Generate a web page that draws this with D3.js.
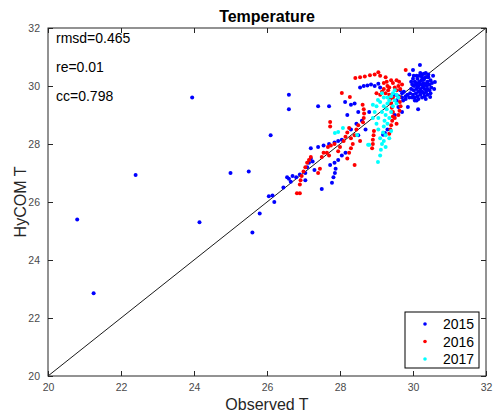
<!DOCTYPE html>
<html>
<head>
<meta charset="utf-8">
<script src="https://cdn.jsdelivr.net/npm/d3@7"></script>
<style>
  html, body { margin: 0; padding: 0; background: #fff; }
  svg text { font-family: "Liberation Sans", Arial, Helvetica, sans-serif; }
</style>
</head>
<body>
<div id="chart"></div>
<script>
// values: [observed, hycom]
const years = ['2015', '2016', '2017'];
const yearColors = ['#0000ff', '#ff0000', '#00ffff'];
const xTicks = [20, 22, 24, 26, 28, 30, 32];
const yTicks = [20, 22, 24, 26, 28, 30, 32];
const stats = ['rmsd=0.465', 're=0.01', 'cc=0.798'];

const pts2015 = [
  // outliers
  [20.8,25.4],[21.25,22.85],[22.4,26.93],[23.95,29.6],[24.15,25.3],[25.0,27.0],[25.5,27.05],
  [25.6,24.95],[25.8,25.6],[26.1,28.3],[26.6,29.7],[26.6,29.2],[27.4,29.3],[27.7,29.3],
  // lower diagonal
  [26.05,26.2],[26.15,26.22],[26.2,26.0],[26.45,26.5],[26.55,26.85],[26.6,26.8],[26.7,26.9],
  [26.8,26.85],[26.9,26.95],[26.65,26.7],[27.05,27.0],[27.1,27.2],[27.15,27.35],[27.2,27.5],
  [27.25,27.4],[27.05,26.75],[27.3,27.1],
  // middle
  [27.2,27.85],[27.4,27.9],[27.55,27.95],[27.7,28.0],[27.85,28.05],[27.95,28.1],[28.05,28.15],
  [27.73,27.28],[27.85,27.35],[27.95,27.45],[28.05,27.6],[28.15,27.7],
  [27.78,26.66],[27.82,26.85],[27.86,27.0],[27.88,27.15],[27.5,26.45],
  [28.3,28.5],[28.45,28.7],[28.6,28.8],[28.7,28.5],[28.8,29.1],[28.5,28.3],[28.2,29.0],
  [28.4,29.4],[28.3,29.35],[28.14,29.45],[28.5,29.1],
  [28.55,29.95],[28.65,30.0],[28.75,30.02],[28.85,30.05],[28.95,30.0],[29.05,30.08],[29.1,29.95],
  [29.23,28.38],[29.3,28.5],[29.18,28.32],
  [29.73,29.5],[29.6,29.28],[29.5,29.0],[29.7,29.1],
  // left of blob
  [29.5,29.7],[29.6,29.65],[29.7,29.6],[29.8,29.55],[29.75,29.8],[29.85,29.7],[29.65,29.85],[29.55,29.5],
  [29.7,29.75],[29.8,29.65],[29.9,29.6],
  // blob
  [29.92,29.75],[29.95,29.9],[29.98,30.05],[30.0,29.7],[30.02,29.85],[30.03,30.0],[30.05,30.15],
  [30.05,29.6],[30.08,29.75],[30.1,29.9],[30.1,30.05],[30.12,30.25],[30.12,29.65],[30.15,29.8],
  [30.15,30.0],[30.17,30.15],[30.18,30.35],[30.2,29.7],[30.2,29.9],[30.22,30.05],[30.23,30.2],
  [30.25,29.8],[30.25,30.3],[30.27,29.95],[30.28,30.1],[30.3,29.75],[30.3,30.22],[30.32,29.9],
  [30.33,30.05],[30.35,30.3],[30.36,29.8],[30.38,30.0],[30.4,30.15],[30.4,29.9],[30.42,30.3],
  [30.45,30.05],[30.45,29.85],[30.48,30.2],[30.5,29.95],[30.3,30.42],[30.2,30.45],[30.1,30.35],
  [30.0,30.25],[29.95,30.15],[30.05,29.5],[30.15,29.55],[30.25,29.6],[30.4,29.7],[30.35,30.45],
  [30.52,30.1],
  [30.08,30.1],[30.18,30.1],[30.28,30.0],[30.38,30.1],[30.22,29.8],[30.32,29.65],[30.12,29.95],
  [30.02,30.35],[30.42,30.4],[30.48,29.75],[29.98,29.6],[30.25,30.4],[30.35,29.55],[30.1,29.5],
  [30.19,30.72],[30.6,30.14],[30.58,29.9],[30.47,29.62],[30.14,29.2],[29.86,29.28],[30.55,30.35],
  [30.0,30.55],[29.9,30.4]
];

const pts2016 = [
  [28.42,30.28],[28.55,30.3],[28.68,30.33],[28.82,30.37],[28.95,30.4],[29.05,30.47],[29.1,30.35],
  [29.8,30.55],[28.05,29.76],[28.27,29.62],[27.73,28.76],[27.73,28.6],
  [29.25,30.3],[29.28,30.15],[29.3,30.0],[29.32,29.85],[29.35,29.7],[29.38,29.55],[29.4,29.4],
  [29.42,29.25],[29.2,29.9],[29.15,29.8],[29.1,29.7],[29.45,30.1],[29.5,29.95],[29.55,29.85],
  [29.4,30.2],[29.0,29.75],[29.25,29.75],[29.35,29.95],[29.45,29.6],[29.2,30.1],
  [29.45,29.1],[29.45,28.95],[29.43,28.8],[29.4,28.65],[29.38,28.5],[29.35,28.35],[29.5,28.9],[29.55,28.7],
  [28.62,29.35],[28.65,29.2],[28.66,29.05],[28.65,28.9],[28.63,28.75],
  [28.1,28.1],[28.15,28.25],[28.2,28.4],[28.25,28.55],[28.3,28.2],[28.35,28.0],[28.4,28.3],
  [28.45,28.5],[28.5,28.65],[28.55,28.1],[28.3,27.85],[28.25,27.7],[28.2,27.5],[28.4,27.28],
  [28.0,27.9],[27.95,27.75],
  [28.9,28.0],[28.9,28.15],[28.92,28.3],[28.93,28.45],[28.88,27.85],
  [27.67,27.9],[27.75,27.95],[27.85,28.0],[27.64,27.7],[27.7,27.6],[27.5,27.55],[27.55,27.7],
  [26.9,26.6],[26.92,26.75],[26.95,26.9],[27.0,27.05],[27.05,27.2],[27.1,27.35],[27.15,27.45],
  [27.2,27.55],[27.4,27.0],[27.45,27.15],[26.82,26.3],[26.9,26.3],
  [29.6,30.0],[29.65,29.9],[29.7,30.05],[29.55,30.2],[29.62,30.15],
  [29.62,29.6],[29.64,29.45],[29.66,29.3],[29.63,29.15],[29.6,29.0]
];

const pts2017 = [
  [29.1,27.6],[29.12,27.8],[29.15,28.0],[29.1,28.2],[29.18,28.4],[29.2,28.6],[29.22,28.8],
  [29.25,29.0],[29.28,29.2],[29.3,29.4],[29.35,29.5],[29.4,29.65],[29.45,29.75],[29.5,29.85],
  [29.55,29.7],[29.3,29.6],[29.2,29.3],[29.15,29.1],[29.05,28.9],[29.0,28.7],[29.05,28.5],
  [29.25,28.3],[29.3,28.7],[29.35,28.9],[29.4,29.1],[29.45,29.3],[29.5,29.5],[29.55,29.4],
  [29.6,29.6],[29.0,29.3],[28.95,29.1],[28.9,28.9],[29.1,29.45],[29.2,29.6],[29.15,29.75],
  [29.04,27.38],[29.2,28.1],[29.25,27.9],[29.35,28.2],[29.4,28.45],
  [28.8,27.97],[28.08,28.55],[27.95,28.41],[27.86,28.38],[28.47,28.31],[28.77,27.97],
  [28.9,29.35],[29.04,29.52]
];

const series = [pts2015, pts2016, pts2017];

const width = 494, height = 417;
const margin = {top: 28, right: 8, bottom: 41, left: 48};
const innerW = width - margin.left - margin.right;
const innerH = height - margin.top - margin.bottom;
const ink = '#262626';

const svg = d3.select('#chart').append('svg')
  .attr('width', width)
  .attr('height', height);

const x = d3.scaleLinear().domain([20, 32]).range([0, innerW]);
const y = d3.scaleLinear().domain([20, 32]).range([innerH, 0]);

const plot = svg.append('g').attr('transform', `translate(${margin.left},${margin.top})`);

// 1:1 line
plot.append('line')
  .attr('x1', x(20)).attr('y1', y(20))
  .attr('x2', x(32)).attr('y2', y(32))
  .attr('stroke', '#000').attr('stroke-width', 0.9);

// points
series.forEach((pts, i) => {
  plot.append('g').selectAll('circle')
    .data(pts)
    .join('circle')
    .attr('cx', d => x(d[0]))
    .attr('cy', d => y(d[1]))
    .attr('r', 2)
    .attr('fill', yearColors[i]);
});

// axes, MATLAB style: ticks inward, box on
const tickLen = 5;
const styleAxis = g => {
  g.select('.domain').remove();
  g.selectAll('.tick line').attr('stroke', ink);
  g.selectAll('.tick text').attr('fill', '#4a4a4a').attr('font-size', 10.5);
};

plot.append('g').attr('transform', `translate(0,${innerH})`)
  .call(d3.axisBottom(x).tickValues(xTicks).tickSizeInner(-tickLen).tickSizeOuter(0).tickPadding(8))
  .call(styleAxis);
plot.append('g')
  .call(d3.axisTop(x).tickValues(xTicks).tickSizeInner(-tickLen).tickSizeOuter(0).tickFormat(''))
  .call(styleAxis);
plot.append('g')
  .call(d3.axisLeft(y).tickValues(yTicks).tickSizeInner(-tickLen).tickSizeOuter(0).tickPadding(8))
  .call(styleAxis);
plot.append('g').attr('transform', `translate(${innerW},0)`)
  .call(d3.axisRight(y).tickValues(yTicks).tickSizeInner(-tickLen).tickSizeOuter(0).tickFormat(''))
  .call(styleAxis);

plot.append('rect')
  .attr('x', 0).attr('y', 0)
  .attr('width', innerW).attr('height', innerH)
  .attr('fill', 'none').attr('stroke', ink).attr('stroke-width', 1);

// stats text
plot.selectAll('.stat').data(stats).join('text')
  .attr('class', 'stat')
  .attr('x', 8)
  .attr('y', (d, i) => 15 + i * 29)
  .attr('font-size', 14)
  .attr('fill', '#000')
  .text(d => d);

// title and labels
svg.append('text')
  .attr('x', margin.left + innerW / 2).attr('y', 22)
  .attr('text-anchor', 'middle')
  .attr('font-size', 16).attr('font-weight', 'bold')
  .attr('fill', '#000')
  .text('Temperature');

svg.append('text')
  .attr('x', margin.left + innerW / 2).attr('y', 410)
  .attr('text-anchor', 'middle')
  .attr('font-size', 16).attr('fill', ink)
  .text('Observed T');

svg.append('text')
  .attr('transform', `translate(26,${margin.top + innerH / 2}) rotate(-90)`)
  .attr('text-anchor', 'middle')
  .attr('font-size', 16).attr('fill', ink)
  .text('HyCOM T');

// legend
const legend = svg.append('g').attr('transform', 'translate(405,312)');
legend.append('rect')
  .attr('width', 74).attr('height', 56)
  .attr('fill', '#fff').attr('stroke', '#000').attr('stroke-width', 1);
const items = legend.selectAll('.item').data(years).join('g')
  .attr('class', 'item')
  .attr('transform', (d, i) => `translate(0,${12 + i * 17.5})`);
items.append('circle')
  .attr('cx', 20).attr('cy', 0).attr('r', 1.8)
  .attr('fill', (d, i) => yearColors[i]);
items.append('text')
  .attr('x', 38).attr('y', 5)
  .attr('font-size', 14).attr('fill', '#000')
  .text(d => d);
</script>
</body>
</html>
